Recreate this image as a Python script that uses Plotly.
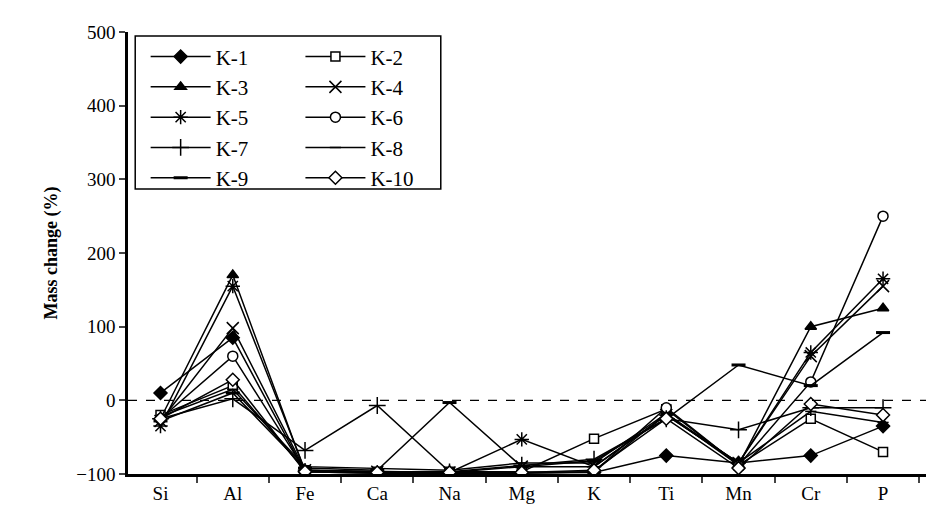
import plotly.graph_objects as go

elements = ['Si', 'Al', 'Fe', 'Ca', 'Na', 'Mg', 'K', 'Ti', 'Mn', 'Cr', 'P']

k1 = [10, 85, -97, -99, -99, -98, -98, -75, -85, -75, -35]
k2 = [-20, 20, -95, -97, -97, -97, -52, -12, -88, -25, -70]
k3 = [-25, 170, -97, -99, -99, -99, -97, -18, -88, 100, 125]
k4 = [-28, 98, -95, -97, -98, -90, -90, -20, -85, 60, 155]
k5 = [-35, 155, -95, -98, -98, -53, -90, -20, -85, 65, 165]
k6 = [-25, 60, -95, -98, -98, -98, -97, -10, -88, 25, 250]
k7 = [-25, 2, -68, -7, -97, -88, -80, -25, -40, -10, -10]
k8 = [-22, 15, -90, -92, -95, -85, -85, -18, -85, -15, -30]
k9 = [-28, 10, -92, -95, -3, -90, -82, -25, 48, 20, 92]
k10 = [-25, 28, -97, -98, -98, -98, -95, -25, -92, -5, -20]

series = [
    ('K-1', k1, 'diamond', 'black', 10),
    ('K-2', k2, 'square', 'white', 9),
    ('K-3', k3, 'triangle-up', 'black', 10),
    ('K-4', k4, 'x-thin', 'black', 12),
    ('K-5', k5, 'asterisk', 'black', 12),
    ('K-6', k6, 'circle', 'white', 10),
    ('K-7', k7, 'cross-thin', 'black', 12),
    ('K-8', k8, 'line-ew', 'black', 8),
    ('K-9', k9, 'line-ew', 'black', 10),
    ('K-10', k10, 'diamond', 'white', 10),
]

fig = go.Figure()
for i, (name, vals, sym, fill, size) in enumerate(series):
    fig.add_trace(go.Scatter(
        x=elements, y=vals, name=name, mode='lines+markers',
        legend='legend' if i % 2 == 0 else 'legend2', legendgroup=name,
        line=dict(color='black', width=1.5),
        marker=dict(symbol=sym, color=fill, size=size,
                    line=dict(color='black', width=3 if name == 'K-9' else 1.5)),
    ))

fig.add_hline(y=0, line=dict(color='black', width=1.2, dash='dash'))
# frame round both legend columns
fig.add_shape(type='rect', xref='paper', yref='paper', x0=0.009, x1=0.39,
              y0=0.645, y1=0.991, line=dict(color='black', width=1.5))

font = 'Liberation Serif, Times New Roman, serif'
leg = dict(y=0.99, yanchor='top', bgcolor='rgba(0,0,0,0)', borderwidth=0,
           font=dict(family=font, size=21), itemwidth=60, tracegroupgap=0)
fig.update_layout(
    width=934, height=518,
    margin=dict(l=120, r=12, t=24, b=52),
    plot_bgcolor='white', paper_bgcolor='white',
    font=dict(family=font, size=19, color='black'),
    showlegend=True,
    legend=dict(x=0.022, xanchor='left', **leg),
    legend2=dict(x=0.215, xanchor='left', **leg),
    xaxis=dict(
        type='category', range=[-0.45, 10.65], tickson='boundaries',
        ticks='outside', ticklen=6, tickwidth=2, showline=True,
        linecolor='black', linewidth=2.5, showgrid=False,
    ),
    yaxis=dict(
        title=dict(text='<b>Mass change (%)</b>', font=dict(family=font, size=18), standoff=14),
        range=[-100, 500], dtick=100, ticks='outside', ticklen=6,
        tickwidth=2, showline=True, linecolor='black', linewidth=2.5,
        showgrid=False, zeroline=False,
    ),
)

fig.write_html('out.html')
